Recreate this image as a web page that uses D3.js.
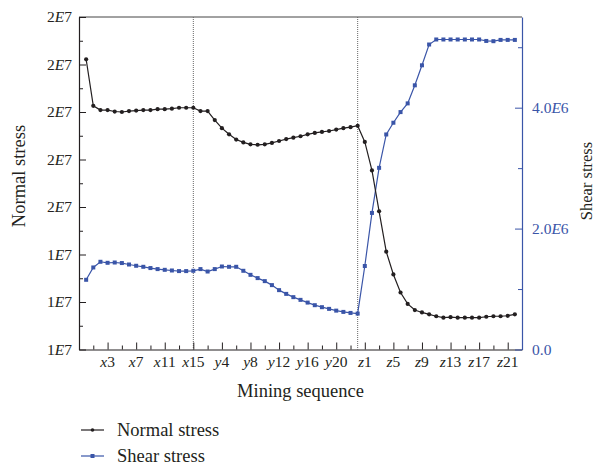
<!DOCTYPE html>
<html>
<head>
<meta charset="utf-8">
<script src="https://cdn.jsdelivr.net/npm/d3@7/dist/d3.min.js"></script>
<style>
  html, body { margin: 0; padding: 0; background: #fff; }
  svg { display: block; }
  text { font-family: "Liberation Serif", "Times New Roman", Tinos, "DejaVu Serif", serif; }
</style>
</head>
<body>
<svg id="chart" width="595" height="467"></svg>
<script>
// ---- data ----
const categories = [
  "x0","x1","x2","x3","x4","x5","x6","x7","x8","x9","x10","x11","x12","x13","x14","x15",
  "y1","y2","y3","y4","y5","y6","y7","y8","y9","y10","y11","y12","y13","y14","y15","y16","y17","y18","y19","y20","y21","y22","y23",
  "z1","z2","z3","z4","z5","z6","z7","z8","z9","z10","z11","z12","z13","z14","z15","z16","z17","z18","z19","z20","z21","z22"
];
const normalStress = [
  18.11,17.13,17.04,17.04,17.01,17.00,17.02,17.03,17.04,17.04,17.06,17.06,17.07,17.09,17.09,17.09,
  17.02,17.02,16.83,16.66,16.53,16.42,16.36,16.32,16.31,16.32,16.35,16.39,16.43,16.46,16.49,16.53,16.56,16.58,16.60,16.63,16.66,16.68,16.71,
  16.37,15.77,14.91,14.06,13.58,13.20,12.96,12.83,12.78,12.74,12.70,12.67,12.68,12.67,12.67,12.67,12.67,12.69,12.70,12.70,12.71,12.74
].map(v => v * 1e6);
const shearStress = [
  1.153,1.357,1.451,1.434,1.439,1.430,1.406,1.385,1.368,1.347,1.330,1.318,1.307,1.297,1.297,1.302,
  1.330,1.290,1.330,1.373,1.368,1.368,1.302,1.235,1.181,1.131,1.065,0.982,0.920,0.866,0.821,0.776,0.733,0.700,0.672,0.643,0.622,0.605,0.594,
  1.381,2.259,3.005,3.557,3.751,3.927,4.071,4.370,4.701,5.045,5.128,5.128,5.128,5.128,5.128,5.128,5.128,5.104,5.100,5.121,5.121,5.121
].map(v => v * 1e6);
const dividerCategories = ["x15", "y23"];
const xTickLabels = ["x3","x7","x11","x15","y4","y8","y12","y16","y20","z1","z5","z9","z13","z17","z21"];
const xMinorTickLabels = ["x1","x5","x9","x13","y2","y6","y10","y14","y18","y22","z3","z7","z11","z15","z19"];
const leftTickValues = [1.2e7,1.3e7,1.4e7,1.5e7,1.6e7,1.7e7,1.8e7,1.9e7];
const leftTickLabels = ["1E7","1E7","1E7","2E7","2E7","2E7","2E7","2E7"];
const leftMinorTicks = [1.25e7,1.35e7,1.45e7,1.55e7,1.65e7,1.75e7,1.85e7];
const rightTickValues = [0, 2e6, 4e6];
const rightTickLabels = ["0.0","2.0E6","4.0E6"];
const rightMinorTicks = [1e6, 3e6, 5e6];
const legendLabels = ["Normal stress", "Shear stress"];

// ---- layout ----
const L = 79, R = 522, T = 17, B = 349.5;
const BLACK = "#231f20", BLUE = "#3a55a8";
const FONT = '"Liberation Serif", "Times New Roman", Tinos, "DejaVu Serif", serif';
const svg = d3.select("#chart");

const idx = d => categories.indexOf(d);
const x = d3.scaleLinear().domain([-1, categories.length]).range([L, R]);
const yL = d3.scaleLinear().domain([1.2e7, 1.9e7]).range([B, T]);
const yR = d3.scaleLinear().domain([0, 5.5e6]).range([B, T]);

function richLabel(sel, label, mode) {
  if (mode === "cat") {
    sel.append("tspan").attr("font-style", "italic").text(label[0]);
    sel.append("tspan").text(label.slice(1));
  } else {
    const k = label.indexOf("E");
    if (k < 0) { sel.text(label); return; }
    sel.append("tspan").text(label.slice(0, k));
    sel.append("tspan").attr("font-style", "italic").text("E");
    sel.append("tspan").text(label.slice(k + 1));
  }
}

// frame top
svg.append("line").attr("x1", L).attr("x2", R).attr("y1", T).attr("y2", T)
  .attr("stroke", "#444").attr("stroke-width", 1);

// divider dotted lines
svg.selectAll(".div").data(dividerCategories).enter().append("line")
  .attr("x1", d => x(idx(d))).attr("x2", d => x(idx(d)))
  .attr("y1", T).attr("y2", B)
  .attr("stroke", "#666").attr("stroke-width", 1).attr("stroke-dasharray", "1,1");

// bottom axis
const gx = svg.append("g").attr("transform", `translate(0,${B})`);
gx.call(d3.axisBottom(x).tickValues(xTickLabels.map(idx)).tickSize(-7).tickSizeOuter(0).tickFormat(""));
gx.select(".domain").attr("stroke", BLACK).attr("stroke-width", 1.2);
gx.selectAll(".tick line").attr("stroke", BLACK);
const gxm = svg.append("g").attr("transform", `translate(0,${B})`);
gxm.call(d3.axisBottom(x).tickValues(xMinorTickLabels.map(idx)).tickSize(-4).tickFormat(""));
gxm.select(".domain").remove();
gxm.selectAll(".tick line").attr("stroke", BLACK);
svg.selectAll(".xlab").data(xTickLabels).enter().append("text")
  .attr("x", d => x(idx(d))).attr("y", B + 17)
  .attr("text-anchor", "middle").attr("font-size", 15.5).attr("fill", BLACK).attr("font-family", FONT)
  .each(function(d) { richLabel(d3.select(this), d, "cat"); });

// left axis
const gl = svg.append("g").attr("transform", `translate(${L},0)`);
gl.call(d3.axisLeft(yL).tickValues(leftTickValues).tickSize(-7).tickSizeOuter(0).tickFormat(""));
gl.select(".domain").attr("stroke", BLACK).attr("stroke-width", 1.2);
gl.selectAll(".tick line").attr("stroke", BLACK);
const glm = svg.append("g").attr("transform", `translate(${L},0)`);
glm.call(d3.axisLeft(yL).tickValues(leftMinorTicks).tickSize(-4).tickFormat(""));
glm.select(".domain").remove();
glm.selectAll(".tick line").attr("stroke", BLACK);
svg.selectAll(".ylab").data(leftTickValues).enter().append("text")
  .attr("x", L - 7).attr("y", d => yL(d)).attr("dy", "0.35em")
  .attr("text-anchor", "end").attr("font-size", 15.5).attr("fill", BLACK).attr("font-family", FONT)
  .each(function(d, i) { richLabel(d3.select(this), leftTickLabels[i], "num"); });

// right axis
const gr = svg.append("g").attr("transform", `translate(${R},0)`);
gr.call(d3.axisRight(yR).tickValues(rightTickValues).tickSize(-7).tickSizeOuter(0).tickFormat(""));
gr.select(".domain").attr("stroke", BLUE).attr("stroke-width", 1.2);
gr.selectAll(".tick line").attr("stroke", BLUE);
const grm = svg.append("g").attr("transform", `translate(${R},0)`);
grm.call(d3.axisRight(yR).tickValues(rightMinorTicks).tickSize(-4).tickFormat(""));
grm.select(".domain").remove();
grm.selectAll(".tick line").attr("stroke", BLUE);
svg.selectAll(".rlab").data(rightTickValues).enter().append("text")
  .attr("x", R + 10).attr("y", d => yR(d)).attr("dy", "0.35em")
  .attr("text-anchor", "start").attr("font-size", 15.5).attr("fill", BLUE).attr("font-family", FONT)
  .each(function(d, i) { richLabel(d3.select(this), rightTickLabels[i], "num"); });

// axis titles
svg.append("text").attr("transform", "translate(25,176) rotate(-90)").attr("font-family", FONT)
  .attr("text-anchor", "middle").attr("font-size", 18.5).attr("fill", BLACK).text("Normal stress");
svg.append("text").attr("transform", "translate(592,181) rotate(-90)").attr("font-family", FONT)
  .attr("text-anchor", "middle").attr("font-size", 16.5).attr("fill", BLACK).text("Shear stress");
svg.append("text").attr("x", (L + R) / 2).attr("y", 397).attr("font-family", FONT)
  .attr("text-anchor", "middle").attr("font-size", 18.5).attr("fill", BLACK).text("Mining sequence");

// series
const normalLine = d3.line().x((d, i) => x(i)).y(d => yL(d));
const shearLine = d3.line().x((d, i) => x(i)).y(d => yR(d));
svg.append("path").datum(shearStress).attr("d", shearLine)
  .attr("fill", "none").attr("stroke", BLUE).attr("stroke-width", 1.2);
svg.selectAll(".sq").data(shearStress).enter().append("rect")
  .attr("x", (d, i) => x(i) - 2).attr("y", d => yR(d) - 2)
  .attr("width", 4).attr("height", 4).attr("fill", BLUE);
svg.append("path").datum(normalStress).attr("d", normalLine)
  .attr("fill", "none").attr("stroke", BLACK).attr("stroke-width", 1.2);
svg.selectAll(".dot").data(normalStress).enter().append("circle")
  .attr("cx", (d, i) => x(i)).attr("cy", d => yL(d)).attr("r", 2.1).attr("fill", BLACK);

// legend
const legendColors = [BLACK, BLUE];
const lg = svg.selectAll(".lg").data(legendLabels).enter().append("g")
  .attr("transform", (d, i) => `translate(0,${430 + i * 26})`);
lg.append("line").attr("x1", 81).attr("x2", 104).attr("y1", 0).attr("y2", 0)
  .attr("stroke", (d, i) => legendColors[i]).attr("stroke-width", 1.2);
lg.each(function(d, i) {
  const g = d3.select(this);
  if (i === 0) g.append("circle").attr("cx", 92.5).attr("cy", 0).attr("r", 1.8).attr("fill", BLACK);
  else g.append("rect").attr("x", 90.5).attr("y", -2).attr("width", 4).attr("height", 4).attr("fill", BLUE);
});
lg.append("text").attr("x", 117).attr("y", 0).attr("dy", "0.33em").attr("font-family", FONT)
  .attr("font-size", 18.5).attr("fill", BLACK).text(d => d);
</script>
</body>
</html>
